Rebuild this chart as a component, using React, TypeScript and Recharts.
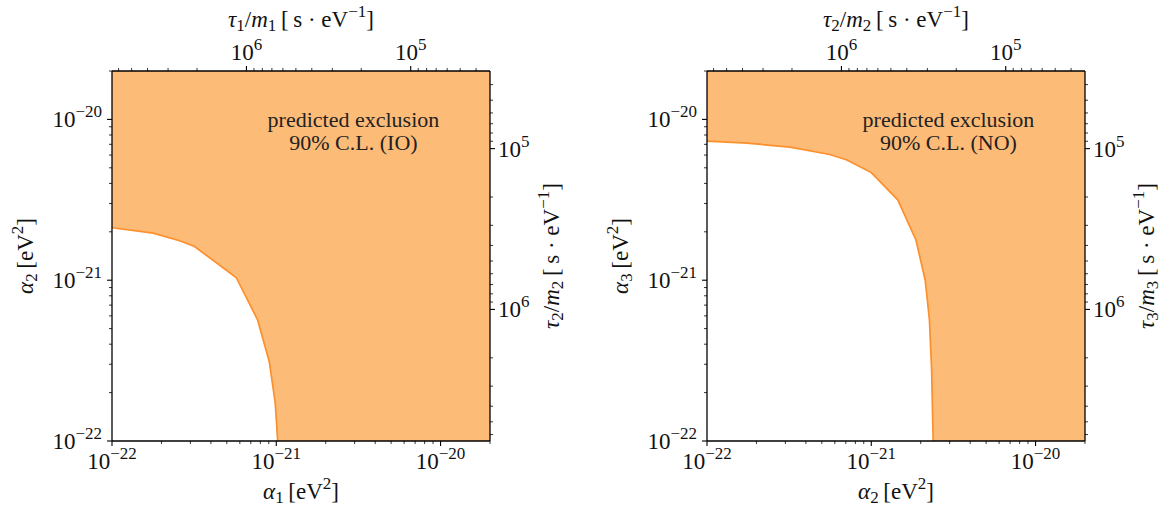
import React from "react";
import { Area, ComposedChart, Line, ReferenceDot, XAxis, YAxis } from "recharts";

// tau/m [s/eV] = hbar / alpha [eV^2]
const HBAR = 6.582e-16;

const ALPHA_MIN = 1e-22;
const ALPHA_MAX = 2e-20;

const ALPHA_TICKS = [
  1e-22, 2e-22, 3e-22, 4e-22, 5e-22, 6e-22, 7e-22, 8e-22, 9e-22,
  1e-21, 2e-21, 3e-21, 4e-21, 5e-21, 6e-21, 7e-21, 8e-21, 9e-21,
  1e-20, 2e-20,
];
const TAU_TICKS = [
  4e4, 5e4, 6e4, 7e4, 8e4, 9e4,
  1e5, 2e5, 3e5, 4e5, 5e5, 6e5, 7e5, 8e5, 9e5,
  1e6, 2e6, 3e6, 4e6, 5e6, 6e6,
];

// exclusion boundary, inverted ordering (IO): alpha1 vs alpha2
const IO_ALPHA1 = [1e-22, 1.78e-22, 2.58e-22, 3.18e-22, 5.7e-22, 7.7e-22, 9.07e-22, 9.86e-22, 1.02e-21];
const IO_ALPHA2 = [2.12e-21, 1.96e-21, 1.76e-21, 1.62e-21, 1.04e-21, 5.66e-22, 3.11e-22, 1.72e-22, 1e-22];

// exclusion boundary, normal ordering (NO): alpha2 vs alpha3
const NO_ALPHA2 = [1e-22, 1.75e-22, 3.2e-22, 5.59e-22, 7.05e-22, 1e-21, 1.45e-21, 1.87e-21, 2.13e-21, 2.26e-21, 2.33e-21, 2.38e-21];
const NO_ALPHA3 = [7.33e-21, 7.12e-21, 6.72e-21, 6.05e-21, 5.61e-21, 4.67e-21, 3.16e-21, 1.78e-21, 1.0e-21, 5.66e-22, 2.77e-22, 1e-22];

// anchor of the "predicted exclusion" note
const NOTE_ALPHA_X = 2.95e-21;
const NOTE_ALPHA_Y = 9e-21;

const FONT = "'Liberation Serif', 'DejaVu Serif', serif";
const FS = 23;
const FS_SMALL = 17;
const FS_NOTE = 22;
const FILL = "#fdbb78";
const EDGE = "#fd8f2c";

// top axis lives on the alpha scale, ticks placed where tau/m is round
const TOP_TICKS = TAU_TICKS.map((t) => HBAR / t);

function isDecade(v: number) {
  const l = Math.log10(v);
  return Math.abs(l - Math.round(l)) < 1e-6;
}

function expText(v: number) {
  const e = Math.round(Math.log10(v));
  return e < 0 ? `\u2212${-e}` : `${e}`;
}

function Pow({ v, ...rest }: any) {
  return (
    <text fontFamily={FONT} fontSize={FS} fill="#111" {...rest}>
      <tspan>10</tspan>
      <tspan fontSize={FS_SMALL} dy={-10}>{expText(v)}</tspan>
    </text>
  );
}

const BottomTick = ({ x, y, payload }: any) => {
  const major = isDecade(payload.value);
  return (
    <g>
      <line x1={x} x2={x} y1={y} y2={y + (major ? 5 : 3)} stroke="#000" strokeWidth={major ? 1.1 : 0.8} />
      {major && <Pow v={payload.value} x={x} y={y + 28} textAnchor="middle" />}
    </g>
  );
};

const TopTick = ({ x, y, payload }: any) => {
  const tau = HBAR / payload.value;
  const major = isDecade(tau);
  return (
    <g>
      <line x1={x} x2={x} y1={y} y2={y - (major ? 5 : 3)} stroke="#000" strokeWidth={major ? 1.1 : 0.8} />
      {major && <Pow v={tau} x={x} y={y - 11} textAnchor="middle" />}
    </g>
  );
};

const LeftTick = ({ x, y, payload }: any) => {
  const major = isDecade(payload.value);
  return (
    <g>
      <line x1={x} x2={x - (major ? 5 : 3)} y1={y} y2={y} stroke="#000" strokeWidth={major ? 1.1 : 0.8} />
      {major && <Pow v={payload.value} x={x - 10} y={y + 8} textAnchor="end" />}
    </g>
  );
};

const RightTick = ({ x, y, payload }: any) => {
  const major = isDecade(payload.value);
  return (
    <g>
      <line x1={x} x2={x + (major ? 5 : 3)} y1={y} y2={y} stroke="#000" strokeWidth={major ? 1.1 : 0.8} />
      {major && <Pow v={payload.value} x={x + 8} y={y + 8} textAnchor="start" />}
    </g>
  );
};

function AlphaTitle({ sub }: { sub: string }) {
  return (
    <>
      <tspan fontStyle="italic">α</tspan>
      <tspan fontSize={FS_SMALL} dy={4}>{sub}</tspan>
      <tspan dy={-4}>{"\u2009[eV"}</tspan>
      <tspan fontSize={FS_SMALL} dy={-10}>2</tspan>
      <tspan dy={10}>]</tspan>
    </>
  );
}

function TauTitle({ sub }: { sub: string }) {
  return (
    <>
      <tspan fontStyle="italic">τ</tspan>
      <tspan fontSize={FS_SMALL} dy={4}>{sub}</tspan>
      <tspan dy={-4}>/</tspan>
      <tspan fontStyle="italic">m</tspan>
      <tspan fontSize={FS_SMALL} dy={4}>{sub}</tspan>
      <tspan dy={-4}>{"\u2009[\u2009s \u00b7 eV"}</tspan>
      <tspan fontSize={FS_SMALL} dy={-10}>{"\u22121"}</tspan>
      <tspan dy={10}>]</tspan>
    </>
  );
}

type PanelProps = {
  xs: number[];
  ys: number[];
  xSub: string;
  ySub: string;
  topSub: string;
  rightSub: string;
  order: string;
};

function Panel({ xs, ys, xSub, ySub, topSub, rightSub, order }: PanelProps) {
  const boundary = xs.map((a, i) => ({ a, b: ys[i] }));
  const region = [...boundary, { a: ALPHA_MAX, b: ALPHA_MIN }];
  const spine = { stroke: "#000", strokeWidth: 1.3 };

  return (
    <ComposedChart width={595} height={508} margin={{ top: 11, right: 15, bottom: 7, left: 12 }}>
      <Area
        xAxisId="a"
        yAxisId="a"
        data={region}
        dataKey="b"
        type="linear"
        baseValue={ALPHA_MAX}
        fill={FILL}
        fillOpacity={1}
        stroke="none"
        isAnimationActive={false}
        dot={false}
        activeDot={false}
      />
      <Line
        xAxisId="top"
        yAxisId="a"
        data={boundary}
        dataKey="b"
        type="linear"
        stroke={EDGE}
        strokeWidth={1.7}
        dot={false}
        activeDot={false}
        isAnimationActive={false}
      />
      <ReferenceDot
        xAxisId="a"
        yAxisId="a"
        x={NOTE_ALPHA_X}
        y={NOTE_ALPHA_Y}
        r={1}
        fill="none"
        stroke="none"
        label={(p: any) => {
          const cx = p.viewBox.x + p.viewBox.width / 2;
          const cy = p.viewBox.y + p.viewBox.height / 2;
          return (
            <text fontFamily={FONT} fontSize={FS_NOTE} fill="#222" textAnchor="middle">
              <tspan x={cx} y={cy}>predicted exclusion</tspan>
              <tspan x={cx} y={cy + 23}>{`90% C.L. (${order})`}</tspan>
            </text>
          );
        }}
      />
      <XAxis
        xAxisId="a"
        dataKey="a"
        type="number"
        scale="log"
        domain={[ALPHA_MIN, ALPHA_MAX]}
        allowDataOverflow
        ticks={ALPHA_TICKS}
        interval={0}
        height={60}
        tickSize={0}
        tickMargin={0}
        tickLine={false}
        axisLine={spine}
        tick={BottomTick}
        label={(p: any) => {
          const { x, y, width } = p.viewBox;
          return (
            <text x={x + width / 2} y={y + 58} textAnchor="middle" fontFamily={FONT} fontSize={FS} fill="#111">
              <AlphaTitle sub={xSub} />
            </text>
          );
        }}
      />
      <XAxis
        xAxisId="top"
        dataKey="a"
        orientation="top"
        type="number"
        scale="log"
        domain={[ALPHA_MIN, ALPHA_MAX]}
        allowDataOverflow
        ticks={TOP_TICKS}
        interval={0}
        height={60}
        tickSize={0}
        tickMargin={0}
        tickLine={false}
        axisLine={spine}
        tick={TopTick}
        label={(p: any) => {
          const { x, y, width, height } = p.viewBox;
          return (
            <text x={x + width / 2} y={y + height - 44} textAnchor="middle" fontFamily={FONT} fontSize={FS} fill="#111">
              <TauTitle sub={topSub} />
            </text>
          );
        }}
      />
      <YAxis
        yAxisId="a"
        type="number"
        scale="log"
        domain={[ALPHA_MIN, ALPHA_MAX]}
        allowDataOverflow
        ticks={ALPHA_TICKS}
        interval={0}
        width={100}
        tickSize={0}
        tickMargin={0}
        tickLine={false}
        axisLine={spine}
        tick={LeftTick}
        label={(p: any) => {
          const { x, y, width, height } = p.viewBox;
          const cx = x + width - 79;
          const cy = y + height / 2;
          return (
            <text x={cx} y={cy} transform={`rotate(-90 ${cx} ${cy})`} textAnchor="middle" fontFamily={FONT} fontSize={FS} fill="#111">
              <AlphaTitle sub={ySub} />
            </text>
          );
        }}
      />
      <YAxis
        yAxisId="t"
        orientation="right"
        type="number"
        scale="log"
        reversed
        domain={[HBAR / ALPHA_MAX, HBAR / ALPHA_MIN]}
        allowDataOverflow
        ticks={TAU_TICKS}
        interval={0}
        width={90}
        tickSize={0}
        tickMargin={0}
        tickLine={false}
        axisLine={spine}
        tick={RightTick}
        label={(p: any) => {
          const { x, y, height } = p.viewBox;
          const cx = x + 69;
          const cy = y + height / 2;
          return (
            <text x={cx} y={cy} transform={`rotate(-90 ${cx} ${cy})`} textAnchor="middle" fontFamily={FONT} fontSize={FS} fill="#111">
              <TauTitle sub={rightSub} />
            </text>
          );
        }}
      />
    </ComposedChart>
  );
}

export default function App() {
  return (
    <div style={{ position: "absolute", left: 0, top: 0, width: 1175, height: 508, background: "#fff" }}>
      <div style={{ position: "absolute", left: 0, top: 0 }}>
        <Panel xs={IO_ALPHA1} ys={IO_ALPHA2} xSub="1" ySub="2" topSub="1" rightSub="2" order="IO" />
      </div>
      <div style={{ position: "absolute", left: 595, top: 0 }}>
        <Panel xs={NO_ALPHA2} ys={NO_ALPHA3} xSub="2" ySub="3" topSub="2" rightSub="3" order="NO" />
      </div>
    </div>
  );
}
